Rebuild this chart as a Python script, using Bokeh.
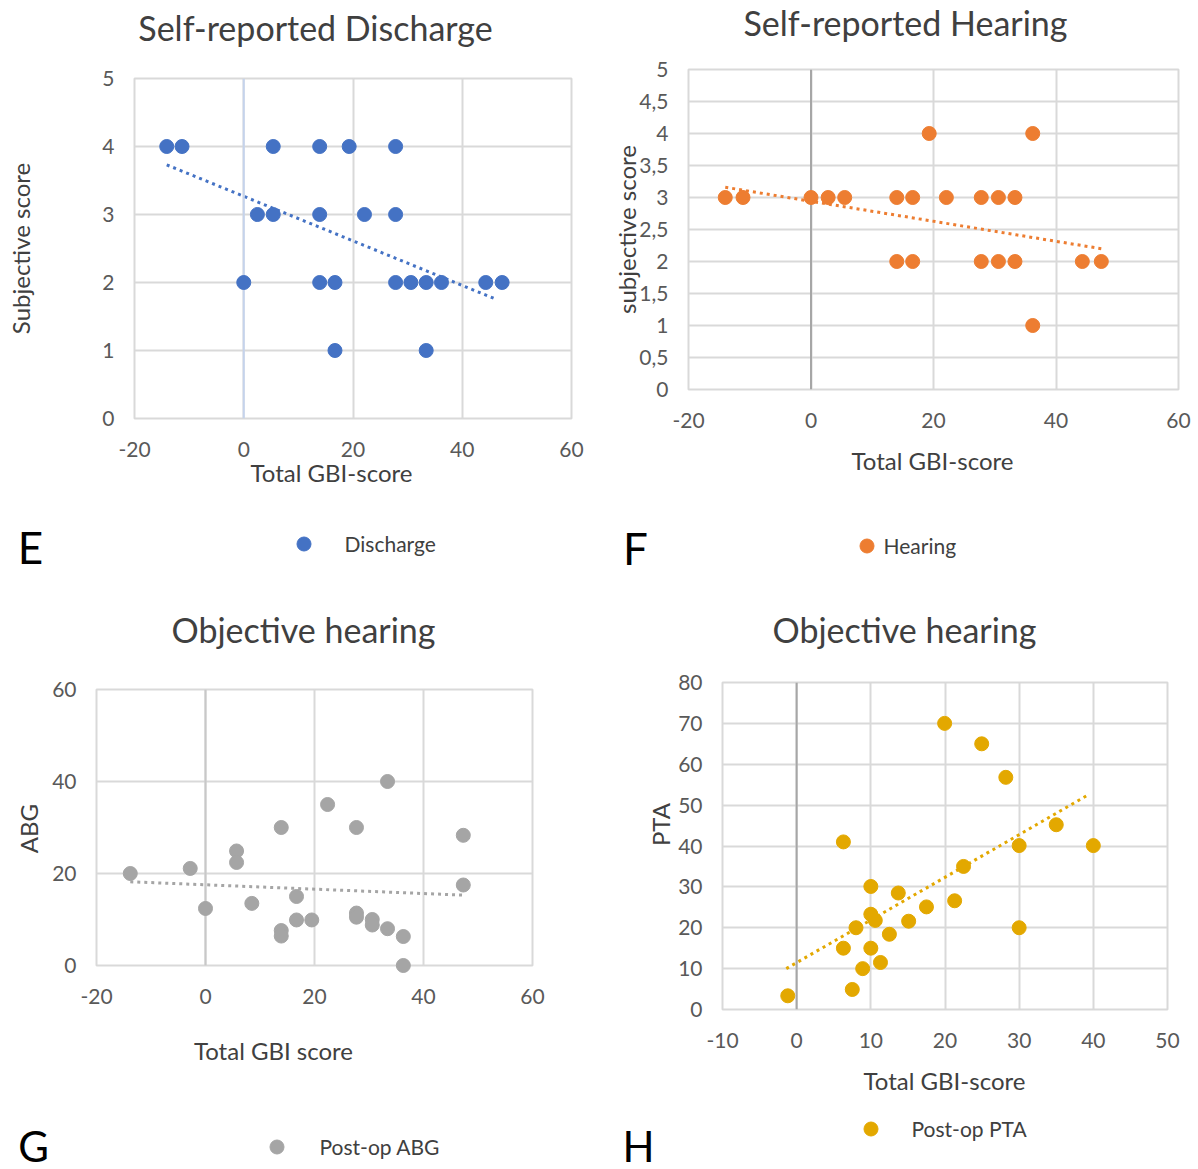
import math
from bokeh.plotting import figure
from bokeh.models import Range1d, FixedTicker, Legend, LegendItem, Span, Label
from bokeh.core.properties import value
from bokeh.layouts import column, row
from bokeh.embed import file_html
from bokeh.resources import INLINE

FONT = "Lato"

# ---------------- data ----------------
discharge_x = [-14.1, -11.3, 5.4, 13.9, 19.3, 27.8,
               2.5, 5.4, 13.9, 22.1, 27.8,
               0.0, 13.9, 16.7, 27.8, 30.6, 33.4, 36.2, 44.3, 47.3,
               16.7, 33.4]
discharge_y = [4, 4, 4, 4, 4, 4,
               3, 3, 3, 3, 3,
               2, 2, 2, 2, 2, 2, 2, 2, 2,
               1, 1]
discharge_trend_x = [-14.1, 46.3]
discharge_trend_y = [3.73, 1.75]

hearing_x = [-14.0, -11.1, 0.0, 2.8, 5.5, 14.0, 16.6, 22.1, 27.8, 30.6, 33.3,
             19.3, 36.2,
             14.0, 16.6, 27.8, 30.6, 33.3, 44.3, 47.4,
             36.2]
hearing_y = [3, 3, 3, 3, 3, 3, 3, 3, 3, 3, 3,
             4, 4,
             2, 2, 2, 2, 2, 2, 2,
             1]
hearing_trend_x = [-14.0, 47.4]
hearing_trend_y = [3.16, 2.20]

abg_x = [-13.8, -2.8, 5.7, 5.7, 13.9, 0.0, 8.5, 16.7, 13.9, 13.9, 16.7, 19.5,
         22.4, 27.7, 27.7, 27.7, 30.6, 30.6, 33.4, 33.4, 36.3, 36.3, 47.3, 47.3]
abg_y = [20.0, 21.1, 24.9, 22.4, 30.0, 12.4, 13.5, 15.0, 7.6, 6.4, 9.9, 9.9,
         35.0, 30.0, 11.4, 10.5, 10.0, 8.8, 40.0, 8.0, 6.3, 0.0, 28.3, 17.5]
abg_trend_x = [-13.8, 47.3]
abg_trend_y = [18.2, 15.3]

pta_x = [19.95, 24.95, 28.2, 35.0, 30.0, 40.0, 6.3, 22.5, 10.0, 13.7, 17.5, 21.3,
         10.0, 10.6, 15.1, 8.0, 12.5, 30.0, 6.3, 10.0, 8.9, 11.3, 7.5, -1.2]
pta_y = [70.0, 65.0, 56.8, 45.2, 40.1, 40.1, 41.0, 35.0, 30.1, 28.5, 25.1, 26.6,
         23.3, 21.8, 21.6, 20.0, 18.4, 20.0, 15.0, 15.0, 10.0, 11.5, 4.9, 3.35]
pta_trend_x = [-1.4, 39.5]
pta_trend_y = [10.0, 52.7]

ticks_x_E = [-20, 0, 20, 40, 60]
ticks_y_E = [0, 1, 2, 3, 4, 5]
ticks_x_F = [-20, 0, 20, 40, 60]
ticks_y_F = [0, 0.5, 1, 1.5, 2, 2.5, 3, 3.5, 4, 4.5, 5]
labels_y_F = ["0", "0,5", "1", "1,5", "2", "2,5", "3", "3,5", "4", "4,5", "5"]
ticks_x_G = [-20, 0, 20, 40, 60]
ticks_y_G = [0, 20, 40, 60]
ticks_x_H = [-10, 0, 10, 20, 30, 40, 50]
ticks_y_H = [0, 10, 20, 30, 40, 50, 60, 70, 80]

TICK_COL = "#595959"
TEXT_COL = "#404040"
GRID_COL = "#D9D9D9"


class Panel:
    """Main chart figure (frame placed by min borders) plus a strip figure
    below it that holds the legend and the panel letter."""

    def __init__(self, width, main_h, strip_h, left, right, top, bottom, xr, yr,
                 xt, yt, page_x0, page_y0, zero_col, ylabels=None):
        p = figure(width=width, height=main_h, output_backend="svg",
                   toolbar_location=None, x_range=Range1d(*xr), y_range=Range1d(*yr),
                   min_border_left=left, min_border_right=right,
                   min_border_top=top, min_border_bottom=bottom)
        p.background_fill_color = "white"
        p.border_fill_color = "white"
        p.outline_line_color = GRID_COL
        p.outline_line_width = 2
        for ax in (p.xaxis[0], p.yaxis[0]):
            ax.axis_line_color = None
            ax.major_tick_line_color = None
            ax.minor_tick_line_color = None
            ax.major_tick_out = 0
            ax.major_tick_in = 0
            ax.major_label_text_font = FONT
            ax.major_label_text_font_size = "21px"
            ax.major_label_text_color = TICK_COL
        p.xaxis[0].ticker = FixedTicker(ticks=xt)
        p.yaxis[0].ticker = FixedTicker(ticks=yt)
        p.xaxis[0].major_label_overrides = {t: str(t) for t in xt}
        p.xaxis[0].major_label_standoff = 23
        p.yaxis[0].major_label_standoff = 20
        if ylabels is not None:
            p.yaxis[0].major_label_overrides = {t: l for t, l in zip(yt, ylabels)}
        p.grid.grid_line_color = GRID_COL
        p.grid.grid_line_width = 2
        p.add_layout(Span(location=0, dimension="height", line_color=zero_col, line_width=2))
        self.p = p
        self.xr, self.yr = xr, yr
        self.fl = page_x0 + left
        self.fw = width - left - right
        self.fh = main_h - top - bottom
        self.fb = page_y0 + main_h - bottom

        s = figure(width=width, height=strip_h, output_backend="svg",
                   toolbar_location=None, x_range=Range1d(0, 1), y_range=Range1d(0, 1),
                   x_axis_location=None, y_axis_location=None,
                   min_border=0, min_border_left=0, min_border_right=0,
                   min_border_top=0, min_border_bottom=0)
        s.outline_line_color = None
        s.background_fill_color = "white"
        s.border_fill_color = "white"
        s.grid.visible = False
        self.s = s
        self.s_x0 = page_x0
        self.s_bottom = page_y0 + main_h + strip_h

    # page pixel -> data coordinate (for free-standing texts of the main figure)
    def dx(self, X):
        return self.xr[0] + (X - self.fl) / self.fw * (self.xr[1] - self.xr[0])

    def dy(self, Y):
        return self.yr[0] + (self.fb - Y) / self.fh * (self.yr[1] - self.yr[0])

    def text(self, X, Y, txt, size, color=TEXT_COL, angle=0.0):
        self.p.text(x=[self.dx(X)], y=[self.dy(Y)], text=[txt],
                    text_font=value(FONT), text_font_size=value(f"{size}px"),
                    text_color=color, text_align="center", text_baseline="middle",
                    angle=angle, level="overlay")

    def letter(self, X, Y, txt, size=44):
        self.s.add_layout(Label(x=X - self.s_x0, y=self.s_bottom - Y,
                                x_units="screen", y_units="screen", text=txt,
                                text_font=FONT, text_font_size=f"{size}px",
                                text_color="#000000", text_align="center",
                                text_baseline="middle"))

    def legend(self, color, label, mx, my, tx):
        gw, gh = 35, 35   # legend swatch = 0.4 * glyph box -> 14 px dot
        # legend key renderer of the strip: its one sample sits outside the strip's
        # visible range, so only the legend swatch shows
        r = self.s.scatter(x=[-5], y=[-5], size=14, color=color)
        lg = Legend(items=[LegendItem(label=label, renderers=[r])],
                    location=(mx - gw / 2 - self.s_x0, self.s_bottom - (my + gh / 2)),
                    glyph_width=gw, glyph_height=gh, label_height=gh,
                    label_standoff=int(round(tx - (mx + gw / 2))),
                    padding=0, margin=0, border_line_color=None,
                    background_fill_alpha=0, label_text_font=FONT,
                    label_text_font_size="21px", label_text_color=TEXT_COL)
        self.s.add_layout(lg)

    def layout(self):
        return column(row(self.p), row(self.s))


# ---------------- Panel E ----------------
E = Panel(600, 500, 85, 134, 29, 78, 82, (-20, 60), (0, 5),
          ticks_x_E, ticks_y_E, 0, 0, "#C5D3EC")
E.p.line(discharge_trend_x, discharge_trend_y, line_color="#4472C4",
         line_width=3, line_dash="3 4")
E.p.scatter(discharge_x, discharge_y, size=14, color="#4472C4", level="overlay")
E.text(315, 27, "Self-reported Discharge", 34)
E.text(331, 472, "Total GBI-score", 24)
E.text(20, 248, "Subjective score", 24, angle=math.pi / 2)
E.letter(30, 546, "E")
E.legend("#4472C4", "Discharge", 303, 543, 345)

# ---------------- Panel F ----------------
F = Panel(598, 490, 95, 88, 20, 69, 101, (-20, 60), (0, 5),
          ticks_x_F, ticks_y_F, 600, 0, "#A6A6A6", labels_y_F)
F.p.line(hearing_trend_x, hearing_trend_y, line_color="#ED7D31",
         line_width=3, line_dash="3 4")
F.p.scatter(hearing_x, hearing_y, size=14, color="#ED7D31", level="overlay")
F.text(905, 22, "Self-reported Hearing", 34)
F.text(932, 460, "Total GBI-score", 24)
F.text(626, 229, "subjective score", 24, angle=math.pi / 2)
F.letter(635, 547, "F")
F.legend("#ED7D31", "Hearing", 866, 545, 880)

# ---------------- Panel G ----------------
G = Panel(600, 495, 89, 96, 68, 104, 115, (-20, 60), (0, 60),
          ticks_x_G, ticks_y_G, 0, 585, "#C8C8C8")
G.p.line(abg_trend_x, abg_trend_y, line_color="#A5A5A5",
         line_width=3, line_dash="3 4")
G.p.scatter(abg_x, abg_y, size=14, color="#A5A5A5", level="overlay")
G.text(303, 629, "Objective hearing", 34)
G.text(273, 1050, "Total GBI score", 24)
G.text(28, 828, "ABG", 24, angle=math.pi / 2)
G.letter(33, 1145, "G", 42)
G.legend("#A5A5A5", "Post-op ABG", 276, 1146, 319)

# ---------------- Panel H ----------------
H = Panel(598, 515, 69, 122, 31, 97, 91, (-10, 50), (0, 80),
          ticks_x_H, ticks_y_H, 600, 585, "#A6A6A6")
H.p.line(pta_trend_x, pta_trend_y, line_color="#E3A800",
         line_width=3, line_dash="3 4")
H.p.scatter(pta_x, pta_y, size=14, color="#E3A800", level="overlay")
H.text(904, 629, "Objective hearing", 34)
H.text(944, 1080, "Total GBI-score", 24)
H.text(660, 824, "PTA", 24, angle=math.pi / 2)
H.letter(638, 1145, "H", 42)
H.legend("#E3A800", "Post-op PTA", 870, 1128, 912)

layout = column(row(E.layout(), F.layout()), row(G.layout(), H.layout()))
open("out.html", "w").write(file_html(layout, INLINE))
